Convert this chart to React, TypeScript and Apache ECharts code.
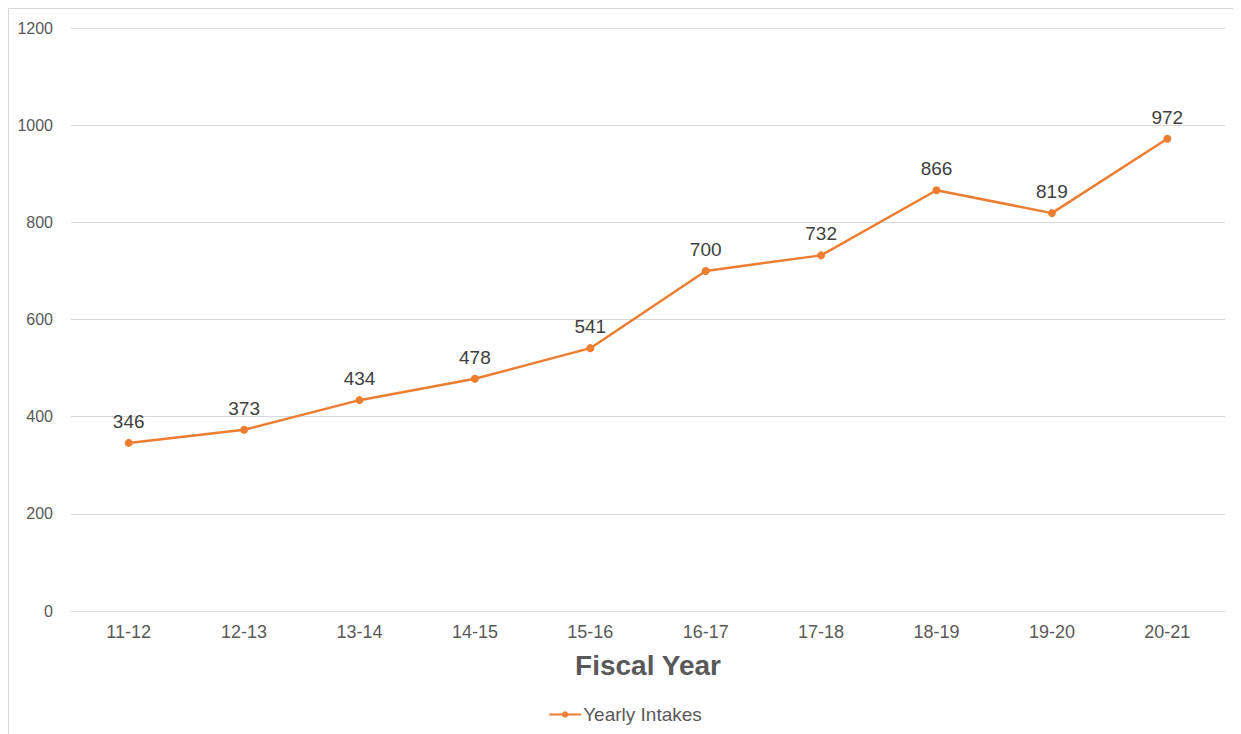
import React, { useEffect, useRef } from "react";
import * as echarts from "echarts";

const categories = ["11-12", "12-13", "13-14", "14-15", "15-16", "16-17", "17-18", "18-19", "19-20", "20-21"];
const intakes = [346, 373, 434, 478, 541, 700, 732, 866, 819, 972];
const seriesName = "Yearly Intakes";
const xAxisTitle = "Fiscal Year";

export default function App() {
  const ref = useRef<HTMLDivElement>(null);
  useEffect(() => {
    if (!ref.current) return;
    const chart = echarts.init(ref.current, null, { renderer: "svg" });
    chart.setOption({
      animation: false,
      textStyle: { fontFamily: "Liberation Sans, Arial, sans-serif" },
      grid: { left: 62, right: 16, top: 19, bottom: 123, containLabel: false },
      legend: {
        data: [seriesName],
        bottom: 5,
        left: "center",
        itemWidth: 32,
        itemHeight: 8,
        itemGap: 4,
        textStyle: { fontSize: 19, color: "#595959", fontFamily: "Liberation Sans, Arial, sans-serif", padding: [0, 0, 0, -3] },
      },
      xAxis: {
        type: "category",
        data: categories,
        boundaryGap: true,
        axisLine: { show: true, lineStyle: { color: "#d9d9d9", width: 1 } },
        axisTick: { show: false },
        axisLabel: { fontSize: 18, color: "#595959", margin: 12 },
        name: xAxisTitle,
        nameLocation: "middle",
        nameGap: 40,
        nameTextStyle: { fontSize: 28, fontWeight: "bold", color: "#595959" },
      },
      yAxis: {
        type: "value",
        min: 0,
        max: 1200,
        interval: 200,
        axisLine: { show: false },
        axisTick: { show: false },
        axisLabel: { fontSize: 16, color: "#595959", margin: 18, formatter: (v: number) => String(v) },
        splitLine: { lineStyle: { color: "#d9d9d9", width: 1 } },
      },
      series: [
        {
          name: seriesName,
          type: "line",
          data: intakes,
          symbol: "circle",
          symbolSize: 8,
          lineStyle: { color: "#ED7D31", width: 2.5 },
          itemStyle: { color: "#ED7D31" },
          label: { show: true, position: "top", distance: 8, fontSize: 19, color: "#404040" },
        },
      ],
    });
    return () => chart.dispose();
  }, []);
  return (
    <div
      style={{
        width: 1233,
        height: 726,
        borderLeft: "1px solid #d9d9d9",
        borderTop: "1px solid #d9d9d9",
        boxSizing: "border-box",
        background: "#fff",
      }}
    >
      <div ref={ref} style={{ width: 1232, height: 725 }} />
    </div>
  );
}
